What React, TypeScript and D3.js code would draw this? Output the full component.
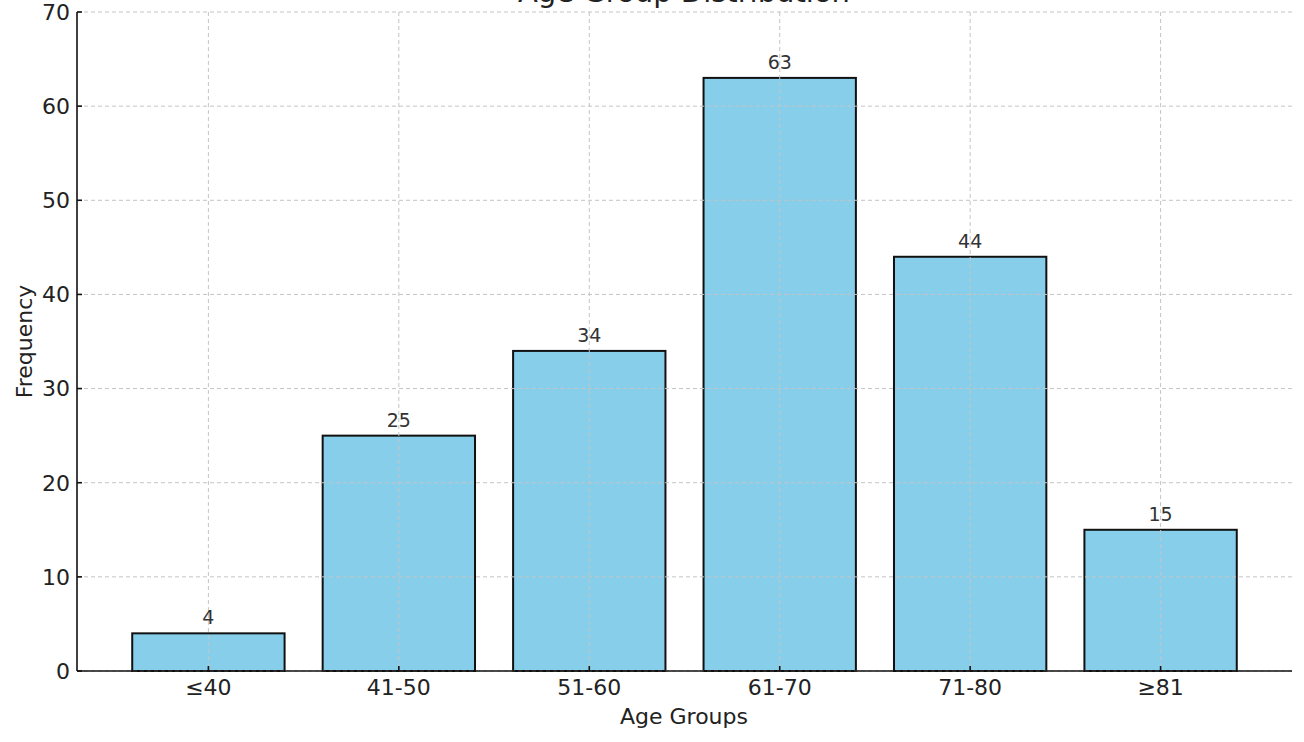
import { useMemo } from "react";
import * as d3 from "d3";

const categories = ["≤40", "41-50", "51-60", "61-70", "71-80", "≥81"];
const frequencies = [4, 25, 34, 63, 44, 15];
const yTicks = [0, 10, 20, 30, 40, 50, 60, 70];

const WIDTH = 1304;
const HEIGHT = 742;
const MARGIN = { top: 12, right: 12, bottom: 71, left: 77 };
const FONT = "DejaVu Sans, sans-serif";
const GRID = "#c4c4c4";

export default function App() {
  const x = useMemo(
    () =>
      d3
        .scaleLinear()
        .domain([-0.69, categories.length - 1 + 0.69])
        .range([MARGIN.left, WIDTH - MARGIN.right]),
    []
  );
  const y = useMemo(
    () =>
      d3
        .scaleLinear()
        .domain([0, 70])
        .range([HEIGHT - MARGIN.bottom, MARGIN.top]),
    []
  );
  const barW = x(0.8) - x(0);
  const bottom = y(0);

  return (
    <svg
      width={WIDTH}
      height={HEIGHT}
      style={{ position: "absolute", left: 0, top: 0, background: "#fff" }}
      fontFamily={FONT}
    >
      {/* title sits partly above the canvas, as in the reference */}
      <text x={684} y={2} textAnchor="middle" fontSize={29} fill="#222">
        Age Group Distribution
      </text>

      {/* bars */}
      {frequencies.map((v, i) => (
        <rect
          key={categories[i]}
          x={x(i) - barW / 2}
          y={y(v)}
          width={barW}
          height={bottom - y(v)}
          fill="#87CEEB"
          stroke="#111"
          strokeWidth={2}
        />
      ))}

      {/* grid on top */}
      <g stroke={GRID} strokeWidth={1} strokeDasharray="4,3">
        {yTicks.map((t) => (
          <line key={t} x1={MARGIN.left} x2={WIDTH - MARGIN.right} y1={y(t)} y2={y(t)} />
        ))}
        {categories.map((c, i) => (
          <line key={c} x1={x(i)} x2={x(i)} y1={MARGIN.top} y2={bottom} />
        ))}
      </g>

      {/* value labels */}
      {frequencies.map((v, i) => (
        <text
          key={"v" + i}
          x={x(i)}
          y={y(v) - 9}
          textAnchor="middle"
          fontSize={19}
          fill="#333"
        >
          {v}
        </text>
      ))}

      {/* axes */}
      <g stroke="#111" strokeWidth={1.6}>
        <line x1={MARGIN.left} x2={MARGIN.left} y1={MARGIN.top} y2={bottom} />
        <line x1={MARGIN.left} x2={WIDTH - MARGIN.right} y1={bottom} y2={bottom} />
        {yTicks.map((t) => (
          <line key={t} x1={MARGIN.left} x2={MARGIN.left + 5} y1={y(t)} y2={y(t)} />
        ))}
        {categories.map((c, i) => (
          <line key={c} x1={x(i)} x2={x(i)} y1={bottom} y2={bottom - 5} />
        ))}
      </g>

      {yTicks.map((t) => (
        <text
          key={"yt" + t}
          x={MARGIN.left - 7}
          y={y(t)}
          dy="0.36em"
          textAnchor="end"
          fontSize={22}
          fill="#222"
        >
          {t}
        </text>
      ))}
      {categories.map((c, i) => (
        <text key={"xt" + c} x={x(i)} y={695} textAnchor="middle" fontSize={22} fill="#222">
          {c}
        </text>
      ))}

      <text x={684} y={724} textAnchor="middle" fontSize={22} fill="#222">
        Age Groups
      </text>
      <text
        transform={`translate(32, ${(MARGIN.top + bottom) / 2}) rotate(-90)`}
        textAnchor="middle"
        fontSize={22}
        fill="#222"
      >
        Frequency
      </text>
    </svg>
  );
}
